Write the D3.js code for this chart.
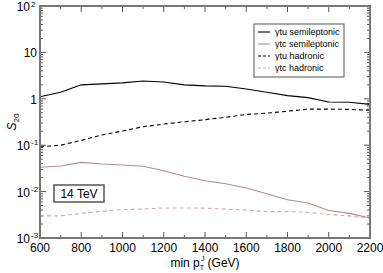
<!DOCTYPE html>
<html>
<head>
<meta charset="utf-8">
<script src="https://cdn.jsdelivr.net/npm/d3@7"></script>
<style>
  body { margin: 0; background: #fff; }
  text { font-family: "Liberation Sans", Arial, sans-serif; fill: #000; }
</style>
</head>
<body>
<div id="chart"></div>
<script>
const svgWidth = 383;
const svgHeight = 273;

const margin = { top: 6, right: 13, bottom: 35, left: 40 };
const width = svgWidth - margin.left - margin.right;
const height = svgHeight - margin.top - margin.bottom;

// data
const ptMin = [600, 700, 800, 900, 1000, 1100, 1200, 1300, 1400, 1500, 1600, 1700, 1800, 1900, 2000, 2100, 2200];
const tuSemi = [1.11, 1.38, 2.0, 2.1, 2.2, 2.42, 2.3, 2.0, 1.9, 1.87, 1.63, 1.38, 1.17, 1.06, 0.85, 0.84, 0.76];
const tcSemi = [0.0334, 0.0357, 0.0427, 0.0394, 0.0374, 0.0351, 0.0282, 0.0214, 0.0172, 0.0148, 0.012, 0.009, 0.0067, 0.0057, 0.0039, 0.0034, 0.0027];
const tuHad = [0.092, 0.10, 0.127, 0.166, 0.202, 0.25, 0.286, 0.32, 0.355, 0.40, 0.46, 0.49, 0.54, 0.60, 0.60, 0.59, 0.565];
const tcHad = [0.0030, 0.0030, 0.0034, 0.00376, 0.0041, 0.0042, 0.00443, 0.00443, 0.0044, 0.0042, 0.0040, 0.0037, 0.0037, 0.0036, 0.0032, 0.0030, 0.0026];

const xTicks = [600, 800, 1000, 1200, 1400, 1600, 1800, 2000, 2200];
const yTicks = [1e-3, 1e-2, 1e-1, 1, 10, 100];
const yTickLabels = [["10", "-3"], ["10", "-2"], ["10", "-1"], ["1", ""], ["10", ""], ["10", "2"]];

const series = [
  { name: "\u03b3tu semileptonic", values: tuSemi, color: "#000", dash: null },
  { name: "\u03b3tc semileptonic", values: tcSemi, color: "#b88a8a", dash: null },
  { name: "\u03b3tu hadronic", values: tuHad, color: "#000", dash: "4,3" },
  { name: "\u03b3tc hadronic", values: tcHad, color: "#d8a8a8", dash: "4,3" }
];

const svg = d3.select("#chart").append("svg")
  .attr("width", svgWidth)
  .attr("height", svgHeight);

const chartGroup = svg.append("g")
  .attr("transform", `translate(${margin.left}, ${margin.top})`);

const x = d3.scaleLinear().domain([600, 2200]).range([0, width]);
const y = d3.scaleLog().domain([1e-3, 100]).range([height, 0]);

const frameColor = "#777";

// minor/major ticks, inward, on all sides
const xMinor = d3.range(600, 2201, 100);
const yMinor = [];
for (let e = -3; e < 2; e++) for (let m = 2; m <= 9; m++) yMinor.push(m * Math.pow(10, e));

const tickG = chartGroup.append("g").attr("stroke", "#555").attr("stroke-width", 1);
xMinor.forEach(v => {
  const len = v % 200 === 0 ? 6 : 3;
  tickG.append("line").attr("x1", x(v)).attr("x2", x(v)).attr("y1", height).attr("y2", height - len);
  tickG.append("line").attr("x1", x(v)).attr("x2", x(v)).attr("y1", 0).attr("y2", len);
});
yMinor.forEach(v => {
  tickG.append("line").attr("x1", 0).attr("x2", 3).attr("y1", y(v)).attr("y2", y(v));
  tickG.append("line").attr("x1", width).attr("x2", width - 3).attr("y1", y(v)).attr("y2", y(v));
});
yTicks.forEach(v => {
  tickG.append("line").attr("x1", 0).attr("x2", 6).attr("y1", y(v)).attr("y2", y(v));
  tickG.append("line").attr("x1", width).attr("x2", width - 6).attr("y1", y(v)).attr("y2", y(v));
});

// lines
const line = d3.line()
  .x((d, i) => x(ptMin[i]))
  .y(d => y(d));

series.forEach(s => {
  chartGroup.append("path")
    .datum(s.values)
    .attr("d", line)
    .attr("fill", "none")
    .attr("stroke", s.color)
    .attr("stroke-width", 1.1)
    .attr("stroke-dasharray", s.dash);
});

// frame
chartGroup.append("rect")
  .attr("width", width)
  .attr("height", height)
  .attr("fill", "none")
  .attr("stroke", frameColor)
  .attr("stroke-width", 2);

// x tick labels
chartGroup.append("g").selectAll("text")
  .data(xTicks)
  .enter().append("text")
  .attr("x", d => x(d))
  .attr("y", height + 14)
  .attr("text-anchor", "middle")
  .style("font-size", "12px")
  .text(d => d);

// y tick labels
const yLab = chartGroup.append("g");
yTicks.forEach((v, i) => {
  const [base, exp] = yTickLabels[i];
  yLab.append("text")
    .attr("x", exp ? -10 : -3)
    .attr("y", y(v) + 5)
    .attr("text-anchor", "end")
    .style("font-size", "12px")
    .text(base);
  if (exp) {
    yLab.append("text")
      .attr("x", -9)
      .attr("y", Math.max(y(v), 1))
      .attr("text-anchor", "start")
      .style("font-size", "8px")
      .text(exp);
  }
});

// axis titles
const xTitle = svg.append("text")
  .attr("x", margin.left + width / 2)
  .attr("y", 267)
  .attr("text-anchor", "middle")
  .style("font-size", "12px");
xTitle.append("tspan").text("min p");
xTitle.append("tspan").attr("dy", 3).style("font-size", "7px").text("T");
xTitle.append("tspan").attr("dx", -3).attr("dy", -9).style("font-size", "7px").text("J");
xTitle.append("tspan").attr("dx", 3).attr("dy", 6).text("(GeV)");

const yTitle = svg.append("text")
  .attr("transform", `translate(16, ${margin.top + height / 2}) rotate(-90)`)
  .attr("text-anchor", "middle")
  .style("font-size", "12px");
yTitle.append("tspan").style("font-style", "italic").text("S");
yTitle.append("tspan").attr("dy", 3).style("font-size", "8px").text("20");

// legend
const legend = svg.append("g").attr("transform", "translate(254, 24)");
legend.append("rect")
  .attr("width", 90)
  .attr("height", 53)
  .attr("fill", "#fff")
  .attr("stroke", "#555")
  .attr("stroke-width", 1);
series.forEach((s, i) => {
  const yy = 8 + i * 12;
  legend.append("line")
    .attr("x1", 4).attr("x2", 16)
    .attr("y1", yy).attr("y2", yy)
    .attr("stroke", s.color)
    .attr("stroke-width", 1.1)
    .attr("stroke-dasharray", s.dash ? "3,2" : null);
  legend.append("text")
    .attr("x", 21)
    .attr("y", yy + 3)
    .style("font-size", "9px")
    .text(s.name);
});

// energy label box
const tev = svg.append("g").attr("transform", "translate(54, 185)");
tev.append("rect")
  .attr("width", 50)
  .attr("height", 17)
  .attr("fill", "#fff")
  .attr("stroke", "#555")
  .attr("stroke-width", 1.5);
tev.append("text")
  .attr("x", 25)
  .attr("y", 13)
  .attr("text-anchor", "middle")
  .style("font-size", "12px")
  .text("14 TeV");
</script>
</body>
</html>
